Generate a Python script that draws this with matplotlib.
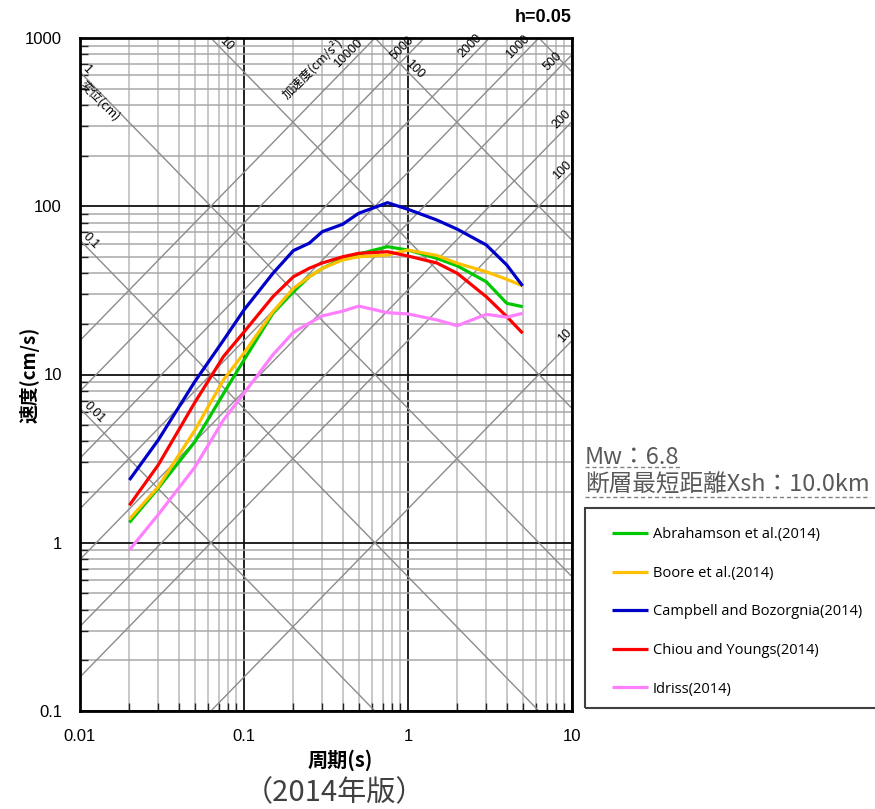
import numpy as np
import matplotlib
matplotlib.use('Agg')
import matplotlib.pyplot as plt
from matplotlib.patches import Rectangle
from matplotlib.lines import Line2D
from matplotlib.ticker import FixedLocator, FixedFormatter, LogLocator, NullFormatter

# ---------------- data ----------------
periods = [0.02, 0.03, 0.05, 0.075, 0.1, 0.15, 0.2, 0.25, 0.3, 0.4, 0.5, 0.75,
           1.0, 1.5, 2.0, 3.0, 4.0, 5.0]
abrahamson = [1.32, 2.11, 3.97, 7.7, 12.2, 23.1, 31.0, 38.1, 42.7, 49.0, 52.0, 57.5,
              54.9, 49.0, 44.2, 35.6, 26.5, 25.3]
boore = [1.38, 2.15, 4.64, 9.3, 13.4, 23.6, 32.5, 38.1, 42.7, 48.0, 50.1, 51.3,
         54.9, 51.0, 45.8, 40.8, 36.8, 33.6]
campbell = [2.36, 4.08, 9.04, 16.0, 24.2, 39.9, 54.5, 60.3, 70.6, 78.2, 90.8, 105.0,
            95.9, 82.8, 73.0, 58.9, 44.8, 33.6]
chiou = [1.67, 2.90, 6.79, 12.8, 17.9, 29.0, 38.1, 42.8, 46.0, 50.1, 52.5, 53.7,
         50.6, 46.0, 39.9, 29.0, 22.1, 17.6]
idriss = [0.905, 1.47, 2.80, 5.37, 7.73, 13.1, 17.8, 20.2, 22.3, 23.8, 25.5, 23.3,
          22.9, 21.1, 19.5, 22.8, 21.9, 23.1]

series_names = ['Abrahamson et al.(2014)', 'Boore et al.(2014)',
                'Campbell and Bozorgnia(2014)', 'Chiou and Youngs(2014)', 'Idriss(2014)']
series_colors = ['#00c800', '#ffc000', '#0000c8', '#ff0000', '#ff80ff']

x_ticks = [0.01, 0.1, 1, 10]
x_tick_labels = ['0.01', '0.1', '1', '10']
y_ticks = [0.1, 1, 10, 100, 1000]
y_tick_labels = ['0.1', '1', '10', '100', '1000']

# tripartite guide lines (acceleration cm/s^2, displacement cm)
accel_values = [10, 100, 200, 500, 1000, 2000, 5000, 10000]
accel_label_T = {10000: 0.469, 5000: 1.01, 2000: 2.60, 1000: 5.09,
                 500: 8.34, 200: 9.46, 100: 9.46, 10: 9.86}
disp_values = [0.01, 0.1, 1, 10, 100, 1000]
disp_label_T = {10: 0.0724, 1: 0.01028, 100: 1.028, 0.1: 0.01088, 0.01: 0.01135}

mw_text = 'Mw：6.8'
dist_text = '断層最短距離Xsh：10.0km'
damping_text = 'h=0.05'
edition_text = '（2014年版）'

# ---------------- figure ----------------
W, H = 875, 809
fig = plt.figure(figsize=(W / 100, H / 100), dpi=100)
ax = fig.add_axes([80 / W, (H - 711) / H, (572 - 80) / W, (711 - 38) / H])
ax.set_xscale('log')
ax.set_yscale('log')
ax.set_xlim(0.01, 10)
ax.set_ylim(0.1, 1000)

cjk = ['Noto Sans CJK JP', 'DejaVu Sans']
num_font = ['Liberation Sans', 'DejaVu Sans']

ax.xaxis.set_major_locator(FixedLocator(x_ticks))
ax.xaxis.set_major_formatter(FixedFormatter(x_tick_labels))
ax.yaxis.set_major_locator(FixedLocator(y_ticks))
ax.yaxis.set_major_formatter(FixedFormatter(y_tick_labels))
ax.xaxis.set_minor_locator(LogLocator(base=10, subs=range(2, 10), numticks=20))
ax.yaxis.set_minor_locator(LogLocator(base=10, subs=range(2, 10), numticks=20))
ax.xaxis.set_minor_formatter(NullFormatter())
ax.yaxis.set_minor_formatter(NullFormatter())

ax.tick_params(which='major', length=0, pad=13, labelsize=12)
ax.tick_params(which='minor', direction='in', length=6, width=1, color='#222222')
for lab in ax.get_xticklabels() + ax.get_yticklabels():
    lab.set_fontfamily(num_font)

ax.grid(which='minor', axis='x', color='#c8c8c8', lw=1.4, zorder=0)
ax.grid(which='minor', axis='y', color='#a8a8a8', lw=1.1, zorder=0)
ax.grid(which='major', axis='both', color='#111111', lw=1.3, zorder=0.5)
ax.set_axisbelow(True)

for sp in ax.spines.values():
    sp.set_linewidth(2)
    sp.set_color('black')

T_end = np.array([0.001, 100.0])
diag_color = '#8c8c8c'
for sa in accel_values:
    ax.plot(T_end, sa * T_end / (2 * np.pi), color=diag_color, lw=1.0, zorder=1)
for sd in disp_values:
    ax.plot(T_end, 2 * np.pi * sd / T_end, color=diag_color, lw=1.0, zorder=1)

for sa, t in accel_label_T.items():
    ax.annotate(str(sa), xy=(t, sa * t / (2 * np.pi)), xytext=(-6, 6),
                textcoords='offset pixels', rotation=45, ha='center', va='center',
                rotation_mode='anchor', fontsize=9, fontfamily=num_font, zorder=3)
t_acc = 0.33
ax.annotate('加速度(cm/s²)', xy=(t_acc, 10000 * t_acc / (2 * np.pi)), xytext=(-17, 17),
            textcoords='offset pixels', rotation=45, ha='center', va='center',
            rotation_mode='anchor', fontsize=9, fontfamily=cjk, zorder=3)
for sd, t in disp_label_T.items():
    ax.annotate(f'{sd:g}', xy=(t, 2 * np.pi * sd / t), xytext=(5, 5),
                textcoords='offset pixels', rotation=-45, ha='center', va='center',
                rotation_mode='anchor', fontsize=9, fontfamily=num_font, zorder=3)
t_d = 0.0140
ax.annotate('変位(cm)', xy=(t_d, 2 * np.pi * 1 / t_d), xytext=(-4, -4),
            textcoords='offset pixels', rotation=-45, ha='center', va='center',
            rotation_mode='anchor', fontsize=9, fontfamily=cjk, zorder=3)

handles = []
for vals, name, col in zip([abrahamson, boore, campbell, chiou, idriss],
                           series_names, series_colors):
    ln, = ax.plot(periods, vals, color=col, lw=2.3, label=name, zorder=4,
                  solid_joinstyle='round', solid_capstyle='butt')
    handles.append(ln)

ax.set_xlabel('周期(s)', fontfamily=cjk, fontsize=14.5, fontweight='bold')
ax.xaxis.set_label_coords((340 - 80) / 492, -(760 - 711) / 673)
ax.xaxis.label.set_va('center')
ax.set_ylabel('速度(cm/s)', fontfamily=cjk, fontsize=13.5, fontweight='bold')
ax.yaxis.set_label_coords(-(80 - 30) / 492, 0.5)
ax.yaxis.label.set_va('center')

fig.text(572 / W, 1 - 18 / H, damping_text, ha='right', va='center', fontsize=13,
         fontweight='bold', fontfamily=num_font)
fig.text(335 / W, 1 - 793 / H, edition_text, ha='center', va='center', fontsize=21,
         color='#404040', fontfamily=cjk)

t1 = fig.text(585 / W, 1 - 457 / H, mw_text, ha='left', va='center', fontsize=17,
              color='#595959', fontfamily=cjk)
t2 = fig.text(585 / W, 1 - 485 / H, dist_text, ha='left', va='center', fontsize=17,
              color='#595959', fontfamily=cjk)

# legend frame (extends beyond right edge like the reference)
fig.patches.append(Rectangle((585 / W, (H - 708) / H), 320 / W, 200 / H,
                             transform=fig.transFigure, fill=False,
                             edgecolor='#404040', lw=1.5, clip_on=False))
leg = fig.legend(handles=handles, labels=series_names, loc='upper left',
                 bbox_to_anchor=(612 / W, 1 - 527 / H), frameon=False,
                 borderpad=0, borderaxespad=0, handlelength=2.47, handletextpad=0.34,
                 labelspacing=1.62, prop={'family': ['Open Sans', 'DejaVu Sans'], 'size': 10.5})

fig.canvas.draw()
renderer = fig.canvas.get_renderer()
for t, ybase in [(t1, 467), (t2, 497)]:
    bb = t.get_window_extent(renderer)
    y = H - ybase
    fig.add_artist(Line2D([bb.x0 / W, bb.x1 / W], [y / H, y / H], transform=fig.transFigure,
                          color='#808080', lw=1.0, ls=(0, (3, 2))))

fig.savefig('out.png', dpi=100)
